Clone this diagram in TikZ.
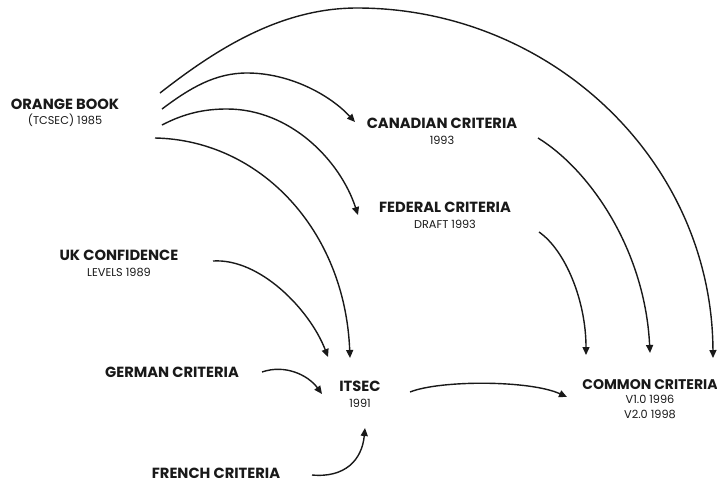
\documentclass[tikz,border=0pt]{standalone}
\usepackage{fontspec}
\setmainfont{Poppins}
\usetikzlibrary{arrows.meta}
\begin{document}
\begin{tikzpicture}[x=1pt,y=-1pt,
  stage/.style={align=center, inner sep=0pt, text=black!90,
    font=\fontsize{11.3}{15.5}\selectfont},
  flow/.style={line width=1.4pt, draw=black!90,
    -{Triangle[length=8pt,width=7pt]}},
]
\newcommand{\ttl}[1]{{\bfseries\fontsize{14.7}{15.5}\selectfont #1}}
\useasboundingbox (0,0) rectangle (717,483);
\fill[white] (0,0) rectangle (717,483);

% standards
\node[stage] (ob)    at (65,113)    {\ttl{ORANGE BOOK}\\(TCSEC) 1985};
\node[stage] (can)   at (442,131.5) {\ttl{CANADIAN CRITERIA}\\1993};
\node[stage] (fed)   at (445,215.5) {\ttl{FEDERAL CRITERIA}\\DRAFT 1993};
\node[stage] (uk)    at (119,263.5) {\ttl{UK CONFIDENCE}\\LEVELS 1989};
\node[stage] (ger)   at (172,372)   {\ttl{GERMAN CRITERIA}};
\node[stage] (itsec) at (360,394.5) {\ttl{ITSEC}\\1991};
\node[stage, font=\fontsize{11.3}{14.5}\selectfont] (cc) at (650,399)
  {{\bfseries\fontsize{14}{15.5}\selectfont COMMON CRITERIA}\\V1.0 1996\\V2.0 1998};
\node[stage] (fr)    at (216,473)   {\ttl{FRENCH CRITERIA}};

% lineage arrows
\draw[flow] ([shift={(95,-20)}]ob.center)
  .. controls (215,50) and (280,8) .. (357,8)
  .. controls (550,8) and (712,160) .. ([shift={(63,-41)}]cc.center);
\draw[flow] ([shift={(97,-4)}]ob.center)
  .. controls (190,88) and (215,73) .. (247,73)
  .. controls (290,73) and (330,95) .. ([shift={(-87,-9.5)}]can.center);
\draw[flow] ([shift={(97,12)}]ob.center)
  .. controls (185,113) and (205,109) .. (227,109)
  .. controls (290,109) and (340,160) .. ([shift={(-87,-0.5)}]fed.center);
\draw[flow] ([shift={(90,25)}]ob.center)
  .. controls (260,140) and (345,230) .. ([shift={(-10,-36.5)}]itsec.center);
\draw[flow] ([shift={(96,6.5)}]can.center)
  .. controls (590,170) and (645,250) .. ([shift={(0,-46)}]cc.center);
\draw[flow] ([shift={(94,16.5)}]fed.center)
  .. controls (565,250) and (586,300) .. ([shift={(-64,-44)}]cc.center);
\draw[flow] ([shift={(94,-2.5)}]uk.center)
  .. controls (260,258) and (310,310) .. ([shift={(-32,-37.5)}]itsec.center);
\draw[flow] ([shift={(90,0)}]ger.center)
  .. controls (285,364) and (308,375) .. ([shift={(-38,-0.5)}]itsec.center);
\draw[flow] ([shift={(96,2)}]fr.center)
  .. controls (345,478) and (362,460) .. ([shift={(5,33.5)}]itsec.center);
\draw[flow] ([shift={(50,-2.5)}]itsec.center)
  .. controls (440,380) and (530,380) .. ([shift={(-83,-2)}]cc.center);
\end{tikzpicture}
\end{document}
